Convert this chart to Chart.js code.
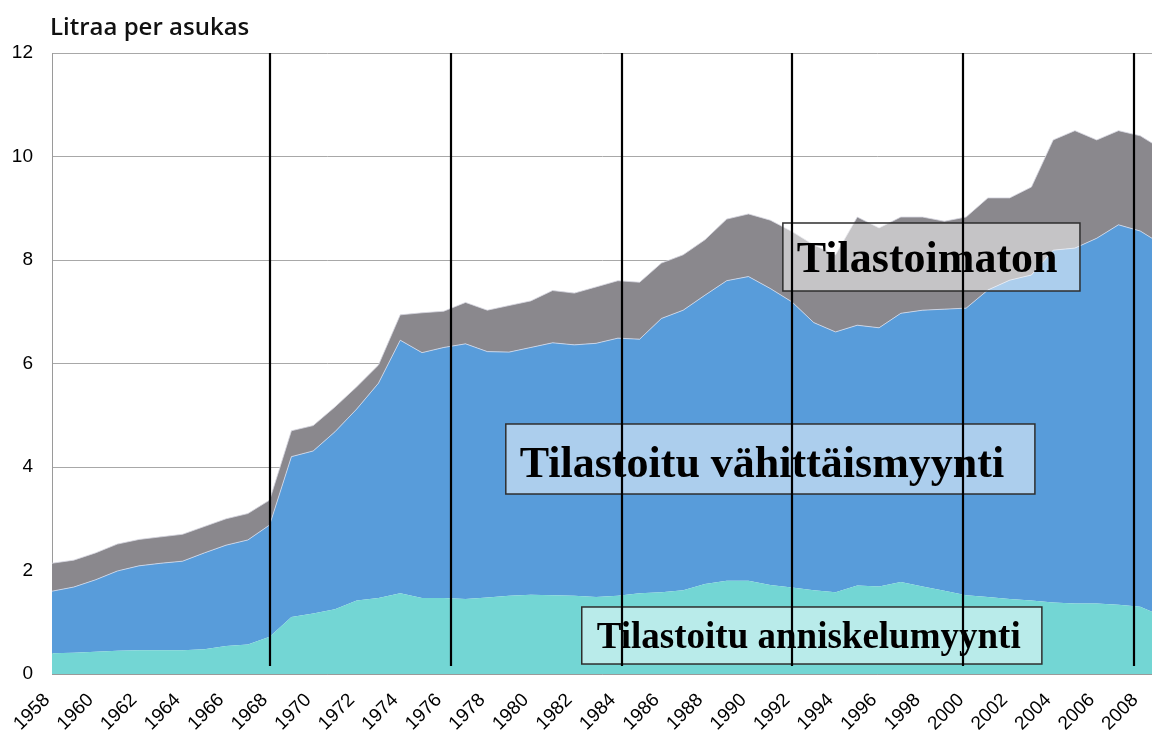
<!DOCTYPE html>
<html>
<head>
<meta charset="utf-8">
<script src="https://cdn.jsdelivr.net/npm/chart.js@4.4.1/dist/chart.umd.min.js"></script>
<style>
html,body{margin:0;padding:0;background:#fff;}
#wrap{width:1152px;height:735px;position:relative;}
</style>
</head>
<body>
<div id="wrap"><canvas id="c" width="1152" height="735"></canvas></div>
<script>
// ---- Data (litres per inhabitant) ----
const years = [1958,1959,1960,1961,1962,1963,1964,1965,1966,1967,1968,1969,1970,1971,1972,1973,1974,1975,1976,1977,1978,1979,1980,1981,1982,1983,1984,1985,1986,1987,1988,1989,1990,1991,1992,1993,1994,1995,1996,1997,1998,1999,2000,2001,2002,2003,2004,2005,2006,2007,2008,2009];
const anniskelumyynti = [0.40,0.41,0.43,0.45,0.46,0.46,0.46,0.48,0.54,0.57,0.72,1.10,1.17,1.25,1.42,1.47,1.56,1.47,1.47,1.45,1.48,1.51,1.53,1.52,1.51,1.49,1.51,1.56,1.58,1.62,1.74,1.80,1.80,1.72,1.67,1.62,1.58,1.71,1.69,1.78,1.69,1.61,1.52,1.49,1.45,1.42,1.38,1.36,1.36,1.34,1.30,1.12];
const vahittaismyynti = [1.20,1.27,1.39,1.54,1.63,1.68,1.72,1.86,1.95,2.02,2.16,3.10,3.14,3.43,3.70,4.15,4.89,4.74,4.84,4.93,4.75,4.71,4.78,4.88,4.85,4.90,4.98,4.91,5.29,5.41,5.58,5.80,5.88,5.73,5.52,5.17,5.03,5.03,5.00,5.19,5.34,5.44,5.55,5.93,6.16,6.29,6.81,6.87,7.06,7.34,7.26,7.18];
const tilastoimaton = [0.54,0.52,0.52,0.52,0.51,0.51,0.52,0.51,0.51,0.51,0.48,0.50,0.49,0.48,0.43,0.35,0.49,0.77,0.70,0.80,0.80,0.90,0.90,1.01,1.00,1.09,1.11,1.10,1.07,1.07,1.07,1.19,1.21,1.32,1.36,1.50,1.49,2.09,1.93,1.86,1.80,1.70,1.76,1.78,1.59,1.70,2.13,2.27,1.90,1.82,1.84,1.84];
const seriesNames = ['Tilastoitu anniskelumyynti','Tilastoitu vähittäismyynti','Tilastoimaton'];
const xTickYears = [1958,1960,1962,1964,1966,1968,1970,1972,1974,1976,1978,1980,1982,1984,1986,1988,1990,1992,1994,1996,1998,2000,2002,2004,2006,2008];
const yTickValues = [0,2,4,6,8,10,12];
const markerYears = [1968.0,1976.35,1984.2,1992.0,1999.85,2007.72];
const yAxisTitle = 'Litraa per asukas';

// ---- Layout / style (not data) ----
const boxLayout = [
  {text: seriesNames[2], x0:1991.58, x1:2005.23, y0:8.715, y1:7.401, tx:1992.22, ty:7.768, size:44},
  {text: seriesNames[1], x0:1978.85, x1:2003.16, y0:4.831, y1:3.478, tx:1979.49, ty:3.807, size:44},
  {text: seriesNames[0], x0:1982.34, x1:2003.48, y0:1.295, y1:0.193, tx:1983.03, ty:0.502, size:37}
];

const overlay = {
  id: 'overlay',
  afterDraw(chart) {
    const {ctx, chartArea: a, scales: {x, y}} = chart;
    ctx.save();
    // axis title
    ctx.font = '600 24px "Open Sans", "Noto Sans", sans-serif';
    ctx.fillStyle = '#111';
    ctx.textAlign = 'left';
    ctx.textBaseline = 'alphabetic';
    ctx.fillText(yAxisTitle, a.left - 2, 35);
    // annotation boxes
    boxLayout.forEach(b => {
      const px0 = x.getPixelForValue(b.x0), px1 = x.getPixelForValue(b.x1);
      const py0 = y.getPixelForValue(b.y0), py1 = y.getPixelForValue(b.y1);
      ctx.fillStyle = 'rgba(255,255,255,0.5)';
      ctx.fillRect(px0, py0, px1 - px0, py1 - py0);
      ctx.strokeStyle = '#2e2e2e';
      ctx.lineWidth = 1.5;
      ctx.strokeRect(px0, py0, px1 - px0, py1 - py0);
      ctx.fillStyle = '#000';
      ctx.font = 'bold ' + b.size + 'px "Liberation Serif", "Times New Roman", serif';
      ctx.textAlign = 'left';
      ctx.textBaseline = 'alphabetic';
      ctx.fillText(b.text, x.getPixelForValue(b.tx), y.getPixelForValue(b.ty));
    });
    // vertical marker lines
    ctx.beginPath();
    markerYears.forEach(v => {
      const px = Math.round(x.getPixelForValue(v));
      ctx.moveTo(px, a.top);
      ctx.lineTo(px, y.getPixelForValue(0.155));
    });
    ctx.lineWidth = 2.2;
    ctx.strokeStyle = '#000';
    ctx.stroke();
    ctx.restore();
  }
};

const mk = (arr) => years.map((yr, i) => ({x: yr, y: arr[i]}));

new Chart(document.getElementById('c'), {
  type: 'line',
  data: {
    datasets: [
      {label: seriesNames[0], data: mk(anniskelumyynti), backgroundColor: '#73D6D4', borderColor: '#73D6D4', borderWidth: 0, fill: 'origin'},
      {label: seriesNames[1], data: mk(vahittaismyynti), backgroundColor: '#589CDA', borderColor: 'rgba(215,220,235,0.8)', borderWidth: 1, fill: '-1'},
      {label: seriesNames[2], data: mk(tilastoimaton), backgroundColor: '#8A888D', borderColor: 'rgba(215,215,225,0.8)', borderWidth: 1, fill: '-1'}
    ]
  },
  options: {
    responsive: false,
    animation: false,
    devicePixelRatio: 1,
    layout: {padding: {top: 53, right: 0, left: 0, bottom: 0}},
    elements: {point: {radius: 0}, line: {tension: 0}},
    plugins: {legend: {display: false}, tooltip: {enabled: false}, title: {display: false}},
    scales: {
      x: {
        type: 'linear',
        min: 1958,
        max: 2008.54,
        afterBuildTicks: (s) => { s.ticks = xTickYears.map(v => ({value: v})); },
        afterFit: (s) => { s.height = 61; s.paddingRight = 0; s.paddingLeft = 0; },
        ticks: {
          autoSkip: false, maxRotation: 45, minRotation: 45,
          font: {family: '"Liberation Sans", Arial, sans-serif', size: 19},
          color: '#000', padding: 15, labelOffset: -5,
          callback: (v) => String(v)
        },
        grid: {display: false, drawTicks: false},
        border: {display: true, color: '#9a9a9a', width: 1}
      },
      y: {
        stacked: true,
        min: 0, max: 12,
        afterBuildTicks: (s) => { s.ticks = yTickValues.map(v => ({value: v})); },
        afterFit: (s) => { s.width = 52; },
        ticks: {
          font: {family: '"Liberation Sans", Arial, sans-serif', size: 19},
          color: '#000', padding: 19
        },
        grid: {color: '#a8a8a8', lineWidth: 1, drawTicks: false},
        border: {display: true, color: '#9a9a9a', width: 1}
      }
    }
  },
  plugins: [overlay]
});
</script>
</body>
</html>
